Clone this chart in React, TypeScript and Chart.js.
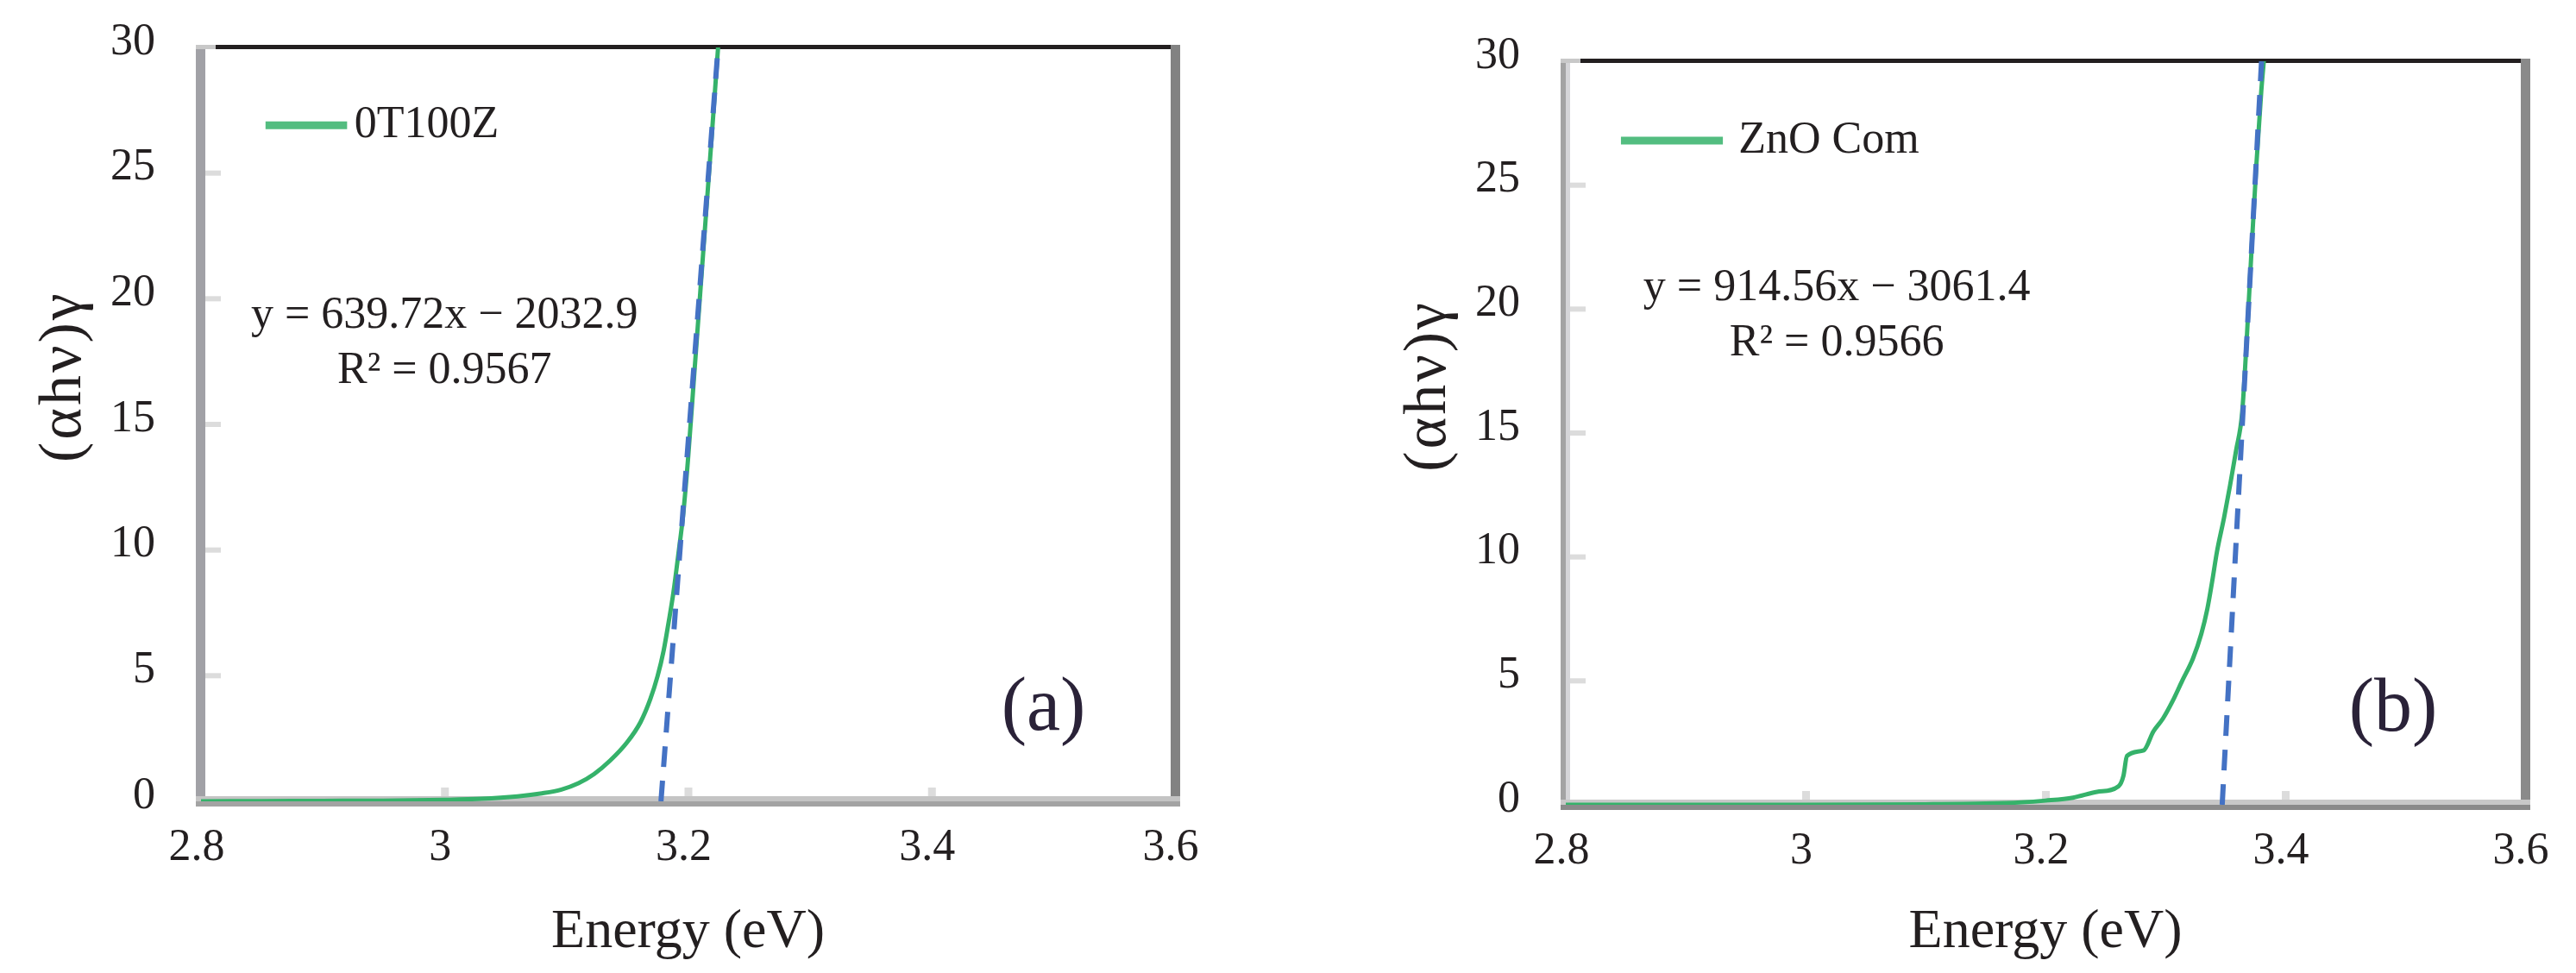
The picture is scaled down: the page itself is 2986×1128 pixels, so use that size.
import React, { useEffect, useRef } from 'react';
import { Chart, registerables } from 'chart.js';

Chart.register(...registerables);

// ---------- data ----------
const xTickValues = [2.8, 3.0, 3.2, 3.4, 3.6];
const xTickLabels = ['2.8', '3', '3.2', '3.4', '3.6'];
const yTickValues = [0, 5, 10, 15, 20, 25, 30];
const yTickLabels = ['0', '5', '10', '15', '20', '25', '30'];

// panel (a) 0T100Z
const energyA = [2.8, 2.85, 2.9, 2.95, 3.0, 3.03, 3.06, 3.08, 3.096, 3.11, 3.123, 3.136, 3.15, 3.161, 3.169, 3.175, 3.18, 3.184, 3.188, 3.192, 3.196, 3.2, 3.205, 3.21, 3.215, 3.22, 3.225];
const absorbA = [0, 0.01, 0.02, 0.03, 0.06, 0.1, 0.2, 0.32, 0.47, 0.72, 1.09, 1.62, 2.35, 3.15, 4.06, 4.98, 6.0, 7.1, 8.3, 9.8, 11.4, 13.6, 16.9, 20.2, 23.5, 26.8, 30.2];
const trendAx = [3.1778, 3.2247];
const trendAy = [0, 30];

// panel (b) ZnO Com
const energyB = [2.8, 2.9, 3.0, 3.1, 3.15, 3.18, 3.2, 3.223, 3.243, 3.261, 3.265, 3.268, 3.282, 3.29, 3.298, 3.306, 3.314, 3.323, 3.33, 3.335, 3.339, 3.343, 3.349, 3.354, 3.359, 3.364, 3.368, 3.372, 3.376, 3.38, 3.383];
const absorbB = [0, 0, 0, 0.02, 0.05, 0.1, 0.17, 0.29, 0.52, 0.75, 1.16, 1.97, 2.2, 2.96, 3.48, 4.18, 5.0, 5.9, 6.9, 7.9, 9.0, 10.2, 11.6, 12.9, 14.3, 15.8, 18.9, 22.5, 25.9, 28.8, 30.5];
const trendBx = [3.3474, 3.3802];
const trendBy = [0, 30];

const seriesLabelA = '0T100Z';
const seriesLabelB = 'ZnO Com';
const equationA = ['y = 639.72x − 2032.9', 'R² = 0.9567'];
const equationB = ['y = 914.56x − 3061.4', 'R² = 0.9566'];
const panelLabelA = '(a)';
const panelLabelB = '(b)';
const yAxisTitle = '(αhν)γ';
const xAxisTitle = 'Energy (eV)';

// ---------- styles ----------
const FONT = '"Liberation Serif", "Times New Roman", serif';
const TEXT = '#231f20';
const GREEN = '#35b26a';
const BLUE = '#4472c4';

type Cfg = {
  left: number;
  axisW: number;
  padR: number;
  padT: number;
  xAxisH: number;
  energy: number[];
  absorb: number[];
  trendX: number[];
  trendY: number[];
  label: string;
  eq: string[];
  panel: string;
  legendAt: number[]; // x1, x2, y, textX (data units)
  eqAt: number[]; // cx, y1, y2 (data units)
  panelAt: number[]; // cx, cy
  yTitleAt: number;
  leftAxis: string[];
  bottomAxis: string[];
  rightAxis: string;
};

const cfgA: Cfg = {
  left: 0,
  axisW: 233,
  padR: 131,
  padT: 55,
  xAxisH: 199,
  energy: energyA,
  absorb: absorbA,
  trendX: trendAx,
  trendY: trendAy,
  label: seriesLabelA,
  eq: equationA,
  panel: panelLabelA,
  legendAt: [2.853, 2.92, 26.9, 2.926],
  eqAt: [3.0, 19.3, 17.1],
  panelAt: [3.492, 3.64],
  yTitleAt: 16.9,
  leftAxis: ['#a1a1a6', '#a1a1a6'],
  bottomAxis: ['#c4c4c4', '#a3a3a3'],
  rightAxis: '#828282',
};

const cfgB: Cfg = {
  left: 1493,
  axisW: 322,
  padR: 59,
  padT: 71,
  xAxisH: 195,
  energy: energyB,
  absorb: absorbB,
  trendX: trendBx,
  trendY: trendBy,
  label: seriesLabelB,
  eq: equationB,
  panel: panelLabelB,
  legendAt: [2.846, 2.931, 26.8, 2.944],
  eqAt: [3.026, 20.84, 18.6],
  panelAt: [3.49, 3.8],
  yTitleAt: 16.9,
  leftAxis: ['#a3a3a3', '#d5d5d8'],
  bottomAxis: ['#c8c8c8', '#8a8a8a'],
  rightAxis: '#8a8a8a',
};

function TaucChart({ cfg }: { cfg: Cfg }) {
  const ref = useRef<HTMLCanvasElement>(null);

  useEffect(() => {
    const framePlugin = {
      id: 'frameAndNotes',
      beforeDatasetsDraw(chart: any) {
        const { ctx, chartArea } = chart;
        const { left, right, top, bottom } = chartArea;
        const xs = chart.scales.x;
        const ys = chart.scales.y;
        ctx.save();
        // small inside tick marks
        ctx.fillStyle = '#dcdcdc';
        yTickValues.forEach((v) => {
          if (v === 0 || v === 30) return;
          const py = ys.getPixelForValue(v);
          ctx.fillRect(left + 5, py - 3, 18, 6);
        });
        xTickValues.forEach((v) => {
          if (v === 2.8 || v === 3.6) return;
          const px = xs.getPixelForValue(v);
          ctx.fillRect(px - 4, bottom - 16, 9, 12);
        });
        // left axis (two tone)
        ctx.fillStyle = cfg.leftAxis[0];
        ctx.fillRect(left - 6, top - 3, 6, bottom - top + 9);
        ctx.fillStyle = cfg.leftAxis[1];
        ctx.fillRect(left, top - 3, 5, bottom - top + 9);
        // top border
        ctx.fillStyle = '#c8c8c8';
        ctx.fillRect(left - 6, top - 3, 23, 5);
        ctx.fillStyle = TEXT;
        ctx.fillRect(left + 17, top - 3, right - left - 17, 5);
        // right border
        ctx.fillStyle = cfg.rightAxis;
        ctx.fillRect(right - 5, top - 3, 11, bottom - top + 9);
        // bottom axis (two tone)
        ctx.fillStyle = cfg.bottomAxis[0];
        ctx.fillRect(left - 6, bottom - 6, right - left + 12, 6);
        ctx.fillStyle = cfg.bottomAxis[1];
        ctx.fillRect(left - 6, bottom, right - left + 12, 6);
        ctx.restore();
      },
      afterDatasetsDraw(chart: any) {
        const { ctx, chartArea } = chart;
        const xs = chart.scales.x;
        const ys = chart.scales.y;
        const ds = chart.data.datasets[0];
        ctx.save();
        // legend
        const lx1 = xs.getPixelForValue(cfg.legendAt[0]);
        const lx2 = xs.getPixelForValue(cfg.legendAt[1]);
        const ly = ys.getPixelForValue(cfg.legendAt[2]);
        ctx.strokeStyle = ds.borderColor;
        ctx.globalAlpha = 0.85;
        ctx.lineWidth = 9;
        ctx.beginPath();
        ctx.moveTo(lx1, ly);
        ctx.lineTo(lx2, ly);
        ctx.stroke();
        ctx.globalAlpha = 1;
        ctx.fillStyle = TEXT;
        ctx.font = `52px ${FONT}`;
        ctx.textAlign = 'left';
        ctx.textBaseline = 'middle';
        ctx.fillText(ds.label, xs.getPixelForValue(cfg.legendAt[3]), ly);
        // trendline equation
        ctx.textAlign = 'center';
        const ex = xs.getPixelForValue(cfg.eqAt[0]);
        ctx.fillText(cfg.eq[0], ex, ys.getPixelForValue(cfg.eqAt[1]));
        ctx.fillText(cfg.eq[1], ex, ys.getPixelForValue(cfg.eqAt[2]));
        // panel label
        ctx.font = `88px ${FONT}`;
        ctx.fillStyle = '#2a2238';
        ctx.fillText(cfg.panel, xs.getPixelForValue(cfg.panelAt[0]), ys.getPixelForValue(cfg.panelAt[1]));
        // y axis title
        ctx.fillStyle = TEXT;
        ctx.translate(chartArea.left - 158, ys.getPixelForValue(cfg.yTitleAt));
        ctx.rotate(-Math.PI / 2);
        ctx.font = `70px ${FONT}`;
        try {
          (ctx as any).letterSpacing = '3px';
        } catch (e) {
          /* ignore */
        }
        ctx.fillText(yAxisTitle, 0, 0);
        ctx.restore();
      },
    };

    const chart = new Chart(ref.current as HTMLCanvasElement, {
      type: 'line',
      data: {
        datasets: [
          {
            label: cfg.label,
            data: cfg.energy.map((x, i) => ({ x, y: cfg.absorb[i] })),
            borderColor: GREEN,
            backgroundColor: GREEN,
            borderWidth: 5,
            pointRadius: 0,
            cubicInterpolationMode: 'monotone',
            order: 2,
          },
          {
            label: 'Linear fit',
            data: cfg.trendX.map((x, i) => ({ x, y: cfg.trendY[i] })),
            borderColor: BLUE,
            backgroundColor: BLUE,
            borderWidth: 6,
            borderDash: [24, 16],
            pointRadius: 0,
            order: 1,
          },
        ],
      } as any,
      options: {
        animation: false,
        responsive: false,
        maintainAspectRatio: false,
        devicePixelRatio: 1,
        layout: { autoPadding: false, padding: { left: 0, top: cfg.padT, right: cfg.padR, bottom: 0 } },
        plugins: {
          legend: { display: false },
          tooltip: { enabled: false },
          title: { display: false },
        },
        scales: {
          x: {
            type: 'linear',
            min: 2.8,
            max: 3.6,
            afterBuildTicks: (s: any) => {
              s.ticks = xTickValues.map((v) => ({ value: v }));
            },
            afterFit: (s: any) => {
              s.height = cfg.xAxisH;
              s.paddingLeft = 0;
              s.paddingRight = 0;
              s.paddingTop = 0;
              s.paddingBottom = 0;
            },
            grid: { display: false, drawTicks: false },
            border: { display: false },
            ticks: {
              autoSkip: false,
              maxRotation: 0,
              padding: 23,
              labelOffset: -5,
              color: TEXT,
              font: { family: FONT, size: 52 },
              callback: (_v: any, i: number) => xTickLabels[i],
            },
            title: {
              display: true,
              text: xAxisTitle,
              color: TEXT,
              font: { family: FONT, size: 64 },
              padding: { top: 0, bottom: 8 },
            },
          },
          y: {
            type: 'linear',
            min: 0,
            max: 30,
            afterBuildTicks: (s: any) => {
              s.ticks = yTickValues.map((v) => ({ value: v }));
            },
            afterFit: (s: any) => {
              s.width = cfg.axisW;
              s.paddingLeft = 0;
              s.paddingRight = 0;
              s.paddingTop = 0;
              s.paddingBottom = 0;
            },
            grid: { display: false, drawTicks: false },
            border: { display: false },
            ticks: {
              autoSkip: false,
              padding: 53,
              labelOffset: -6,
              color: TEXT,
              font: { family: FONT, size: 52 },
              callback: (_v: any, i: number) => yTickLabels[i],
            },
          },
        },
      } as any,
      plugins: [framePlugin],
    });
    return () => chart.destroy();
  }, [cfg]);

  return (
    <canvas
      ref={ref}
      width={1493}
      height={1128}
      style={{ position: 'absolute', left: cfg.left, top: 0, width: 1493, height: 1128 }}
    />
  );
}

export default function App() {
  return (
    <div style={{ position: 'absolute', left: 0, top: 0, width: 2986, height: 1128, background: '#ffffff', overflow: 'hidden' }}>
      <TaucChart cfg={cfgA} />
      <TaucChart cfg={cfgB} />
    </div>
  );
}
